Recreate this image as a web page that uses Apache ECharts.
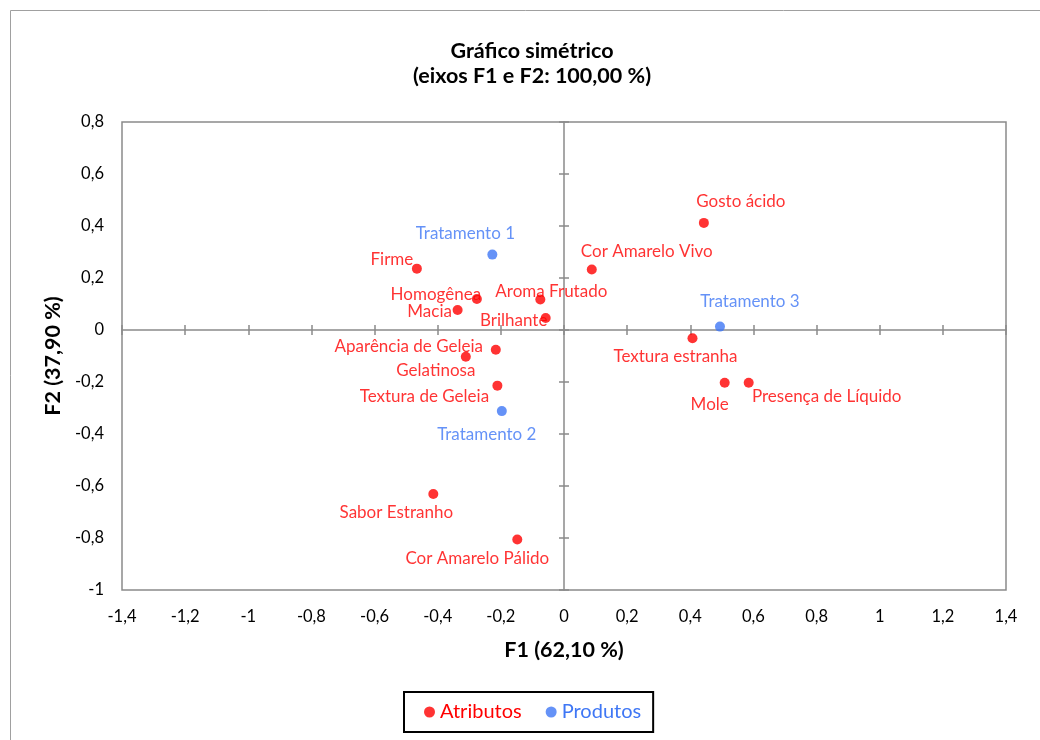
<!DOCTYPE html>
<html>
<head>
<meta charset="utf-8">
<script src="https://cdn.jsdelivr.net/npm/echarts@6/dist/echarts.min.js"></script>
<style>html,body{margin:0;padding:0;background:#fff;}#c{width:1040px;height:740px;}</style>
</head>
<body>
<div id="c"></div>
<script>
// Data
const attrNames = ['Gosto ácido','Cor Amarelo Vivo','Firme','Homogênea','Aroma Frutado','Macia','Brilhante','Aparência de Geleia','Gelatinosa','Textura de Geleia','Textura estranha','Mole','Presença de Líquido','Sabor Estranho','Cor Amarelo Pálido'];
const attrX = [0.443, 0.088, -0.466, -0.276, -0.075, -0.337, -0.058, -0.216, -0.311, -0.211, 0.407, 0.509, 0.585, -0.414, -0.148];
const attrY = [0.412, 0.233, 0.236, 0.119, 0.117, 0.077, 0.046, -0.076, -0.103, -0.214, -0.032, -0.203, -0.203, -0.631, -0.806];
const prodNames = ['Tratamento 1','Tratamento 2','Tratamento 3'];
const prodX = [-0.227, -0.197, 0.494];
const prodY = [0.290, -0.312, 0.013];
const xTicks = [-1.4,-1.2,-1,-0.8,-0.6,-0.4,-0.2,0,0.2,0.4,0.6,0.8,1,1.2,1.4];
const yTicks = [-1,-0.8,-0.6,-0.4,-0.2,0,0.2,0.4,0.6,0.8];

// label placement (style)
const attrLabelOffsets = [[37,-21],[55,-18],[-25,-9],[-41,-5],[11,-8],[-28,2],[-32,2],[-87,-3],[-30,14],[-73,11],[-17,18],[-15,22],[78,14],[-37,18],[-40,19]];
const prodLabelOffsets = [[-27,-21],[-15,23],[30,-25]];

const RED = '#FF0000', BLUE = '#3F77F5', GRAY = '#8A8A8A';
const FONT = 'Lato';
const fmt = v => { const r = Math.round(v*10)/10; return (Object.is(r,-0)?0:r).toString().replace('.', ','); };

function mk(names, xs, ys, offs) {
  return names.map((n, i) => ({
    name: n, value: [xs[i], ys[i]],
    label: { offset: offs[i] }
  }));
}

const chart = echarts.init(document.getElementById('c'), null, {renderer: 'canvas'});
const axisCommon = {min: -1.4, max: 1.4, interval: 0.2};
const yCommon = {min: -1, max: 0.8, interval: 0.2};
chart.setOption({
  animation: false,
  backgroundColor: '#fff',
  textStyle: {fontFamily: FONT},
  graphic: [{type: 'rect', shape: {x: 10.5, y: 10.5, width: 1100, height: 800}, style: {fill: null, stroke: '#A0A0A0', lineWidth: 1}, silent: true}],
  title: {
    text: 'Gráfico simétrico\n(eixos F1 e F2: 100,00 %)',
    left: 527, top: 34, textAlign: 'center',
    textStyle: {fontFamily: FONT, fontWeight: 'bold', fontSize: 21.5, lineHeight: 25, color: '#000'}
  },
  grid: {left: 122, top: 122, right: 34, bottom: 150, show: true, borderColor: GRAY, borderWidth: 1.5, containLabel: false},
  legend: {
    bottom: 8, left: 404, width: 248, height: 41,
    padding: [10, 12, 10, 20],
    borderColor: '#000', borderWidth: 2,
    icon: 'circle', itemWidth: 11, itemHeight: 11, itemGap: 24,
    textStyle: {fontFamily: FONT, fontSize: 20},
    data: [
      {name: 'Atributos', textStyle: {color: RED}},
      {name: 'Produtos', textStyle: {color: BLUE}}
    ]
  },
  xAxis: [
    Object.assign({type: 'value', position: 'bottom', axisLine: {show: false, onZero: false}, axisTick: {show: false}, splitLine: {show: false},
      axisLabel: {formatter: fmt, margin: 18, fontSize: 16.5, color: '#000', fontFamily: FONT, customValues: xTicks},
      name: 'F1 (62,10 %)', nameLocation: 'middle', nameGap: 49,
      nameTextStyle: {fontFamily: FONT, fontWeight: 'bold', fontSize: 21.5, color: '#000'}}, axisCommon),
    Object.assign({type: 'value', axisLine: {show: true, onZero: true, lineStyle: {color: GRAY, width: 1.5}}, axisTick: {show: true, inside: true, length: 5, lineStyle: {color: GRAY, width: 1.5}}, axisLabel: {show: false}, splitLine: {show: false}}, axisCommon),
    Object.assign({type: 'value', axisLine: {show: false, onZero: true}, axisTick: {show: true, inside: false, length: 5, lineStyle: {color: GRAY, width: 1.5}}, axisLabel: {show: false}, splitLine: {show: false}}, axisCommon)
  ],
  yAxis: [
    Object.assign({type: 'value', position: 'left', axisLine: {show: false, onZero: false}, axisTick: {show: false}, splitLine: {show: false},
      axisLabel: {formatter: fmt, margin: 18, fontSize: 16.5, color: '#000', fontFamily: FONT, customValues: yTicks},
      name: 'F2 (37,90 %)', nameLocation: 'middle', nameGap: 54,
      nameTextStyle: {fontFamily: FONT, fontWeight: 'bold', fontSize: 21.5, color: '#000'}}, yCommon),
    Object.assign({type: 'value', axisLine: {show: true, onZero: true, lineStyle: {color: GRAY, width: 1.5}}, axisTick: {show: true, inside: true, length: 5, lineStyle: {color: GRAY, width: 1.5}}, axisLabel: {show: false}, splitLine: {show: false}}, yCommon),
    Object.assign({type: 'value', axisLine: {show: false, onZero: true}, axisTick: {show: true, inside: false, length: 5, lineStyle: {color: GRAY, width: 1.5}}, axisLabel: {show: false}, splitLine: {show: false}}, yCommon)
  ],
  series: [
    {
      name: 'Atributos', type: 'scatter', xAxisIndex: 1, yAxisIndex: 1, symbolSize: 10,
      itemStyle: {color: RED},
      label: {show: true, position: 'inside', formatter: '{b}', color: RED, fontSize: 17, fontFamily: FONT},
      data: mk(attrNames, attrX, attrY, attrLabelOffsets)
    },
    {
      name: 'Produtos', type: 'scatter', xAxisIndex: 1, yAxisIndex: 1, symbolSize: 10,
      itemStyle: {color: BLUE},
      label: {show: true, position: 'inside', formatter: '{b}', color: BLUE, fontSize: 17, fontFamily: FONT},
      data: mk(prodNames, prodX, prodY, prodLabelOffsets)
    }
  ]
});
</script>
</body>
</html>
